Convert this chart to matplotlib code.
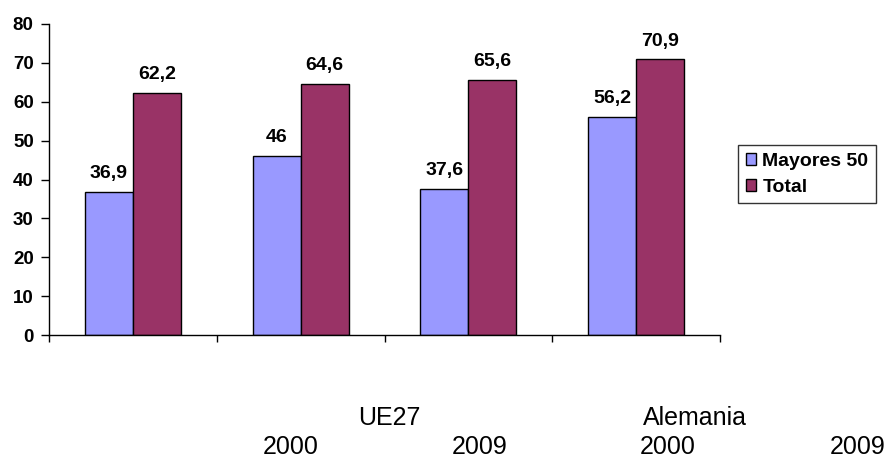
import matplotlib
matplotlib.use("Agg")
from matplotlib import pyplot as plt
import numpy as np

plt.rcParams['font.family'] = ['Liberation Sans', 'DejaVu Sans']

# datos
grupos = ["UE27 2000", "UE27 2009", "Alemania 2000", "Alemania 2009"]
mayores_50 = [36.9, 46, 37.6, 56.2]
total = [62.2, 64.6, 65.6, 70.9]
etiquetas_pais = ["UE27", "Alemania"]
etiquetas_anio = ["2000", "2009", "2000", "2009"]

fig = plt.figure(figsize=(8.9, 4.58), dpi=100)
ax = fig.add_axes([49/890, (458-335)/458, (720-49)/890, (335-24)/458])

x = np.arange(len(grupos))
w = 48/167.75
b1 = ax.bar(x - w/2, mayores_50, w, color='#9999FF', edgecolor='black', linewidth=1, label='Mayores 50')
b2 = ax.bar(x + w/2, total, w, color='#993366', edgecolor='black', linewidth=1, label='Total')

def fmt(v):
    return ('%g' % v).replace('.', ',')

for barras, vals in [(b1, mayores_50), (b2, total)]:
    for r, v in zip(barras, vals):
        ax.annotate(fmt(v), (r.get_x() + r.get_width()/2, v), xytext=(0, 7), textcoords='offset points',
                    ha='center', va='bottom', fontsize=14, fontweight='bold')

ax.set_xlim(-0.5, 3.5)
ax.set_ylim(0, 80)
ax.set_yticks(range(0, 81, 10))
ax.set_xticks(np.arange(-0.5, 4.0, 1.0))
ax.set_xticklabels([])
ax.tick_params(axis='y', labelsize=13.5, length=6, width=1, direction='out', pad=5)
ax.tick_params(axis='x', length=5, width=1, direction='out')
for t in ax.get_yticklabels():
    t.set_fontweight('bold')
for s in ['top', 'right']:
    ax.spines[s].set_visible(False)
for s in ['left', 'bottom']:
    ax.spines[s].set_linewidth(1)

# etiquetas de categoria (desplazadas como en el original)
tr = ax.get_xaxis_transform()
pos_pais = [1.53, 3.35]
pos_anio = [0.94, 2.07, 3.19, 4.32]
for p, t in zip(pos_pais, etiquetas_pais):
    ax.text(p, -0.267, t, transform=tr, ha='center', va='center', fontsize=18, clip_on=False)
for p, t in zip(pos_anio, etiquetas_anio):
    ax.text(p, -0.36, t, transform=tr, ha='center', va='center', fontsize=18, clip_on=False)

leg = fig.legend(loc='upper left', bbox_to_anchor=(738/890, 1 - 145/458), frameon=True, fancybox=False,
                 edgecolor='black', prop={'weight': 'bold', 'size': 14}, handlelength=0.55, handleheight=0.55,
                 handletextpad=0.3, borderpad=0.4, labelspacing=0.45, borderaxespad=0)
leg.get_frame().set_linewidth(1)

fig.savefig('out.png', dpi=100)
